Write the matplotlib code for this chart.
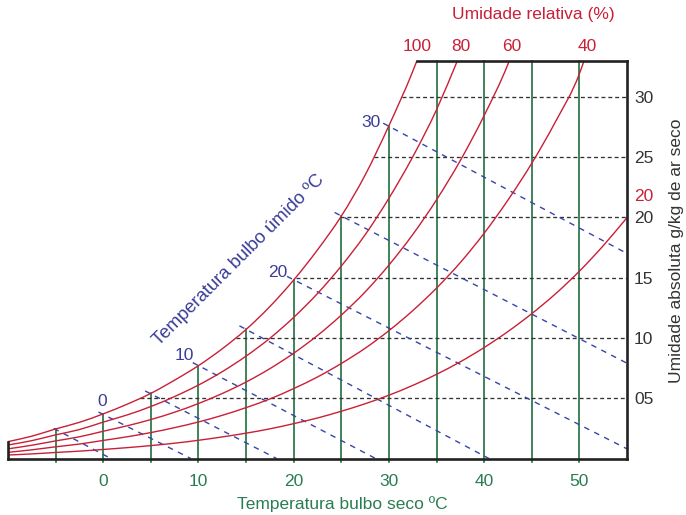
import matplotlib
matplotlib.use("Agg")
import matplotlib.pyplot as plt
from matplotlib.path import Path
from matplotlib.patches import PathPatch
import numpy as np

plt.rcParams['font.family'] = ['Liberation Sans', 'DejaVu Sans']

# ---------------- data ----------------
T_grid = [-10, -7.5, -5, -2.5, 0, 2.5, 5, 7.5, 10, 12.5, 15, 17.5, 20, 22.5, 25,
          27.5, 30, 32.5, 35, 37.5, 40, 42.5, 45, 47.5, 50, 52.5, 55]

# relative humidity curves: absolute humidity (g/kg) vs dry bulb temperature
rh100_t = T_grid[:18] + [32.95]
rh100_w = [1.4, 1.85, 2.45, 3.0, 3.7, 4.5, 5.4, 6.5, 7.7, 9.1, 10.7, 12.6, 14.8,
           17.3, 20.1, 23.5, 27.6, 32.1, 33.0]
rh80_t = T_grid[:19] + [37.2]
rh80_w = [1.12, 1.48, 1.96, 2.4, 3.02, 3.61, 4.31, 5.14, 6.09, 7.20, 8.49, 9.97,
          11.70, 13.68, 15.96, 18.55, 21.58, 25.01, 28.92, 33.0]
rh60_t = T_grid[:22] + [42.65]
rh60_w = [0.8, 1.1, 1.46, 1.8, 2.26, 2.71, 3.23, 3.84, 4.56, 5.39, 6.34, 7.45,
          8.73, 10.20, 11.89, 13.81, 16.04, 18.57, 21.45, 24.71, 28.44, 32.70, 33.0]
rh40_t = T_grid[:25] + [50.5]
rh40_w = [0.51, 0.72, 0.97, 1.2, 1.50, 1.80, 2.15, 2.56, 3.03, 3.58, 4.22, 4.94,
          5.80, 6.76, 7.88, 9.14, 10.60, 12.26, 14.13, 16.25, 18.68, 21.43, 24.48,
          27.94, 31.90, 33.0]
rh20_t = T_grid[:]
rh20_w = [0.29, 0.38, 0.5, 0.61, 0.75, 0.90, 1.07, 1.27, 1.51, 1.79, 2.10, 2.46,
          2.89, 3.36, 3.92, 4.54, 5.25, 6.06, 6.98, 8.02, 9.20, 10.53, 12.01, 13.66,
          15.53, 17.64, 19.97]
rh_labels = ['100', '80', '60', '40', '20']

# dry bulb temperature lines (vertical)
dry_temps = [-5, 0, 5, 10, 15, 20, 25, 30, 35, 40, 45, 50]
dry_tick_labels = ['0', '10', '20', '30', '40', '50']
dry_tick_values = [0, 10, 20, 30, 40, 50]

# absolute humidity grid (horizontal dashed)
hum_levels = [5, 10, 15, 20, 25, 30]
hum_labels = ['05', '10', '15', '20', '25', '30']

# wet bulb lines
wb_temps = [-5, 0, 5, 10, 15, 20, 25, 30]
wb_start_t = [-5.2, -0.5, 4.4, 9.4, 14.3, 19.3, 24.3, 29.4]
wb_start_w = [2.5, 3.85, 5.6, 7.95, 11.0, 15.1, 20.4, 27.8]
wb_end_t = [0.8, 9.2, 18.2, 28.6, 40.5, 55, 55, 55]
wb_end_w = [0, 0, 0, 0, 0, 0.8, 7.9, 17.0]
wb_label_text = ['0', '10', '20', '30']
wb_label_t = [-0.15, 8.5, 18.35, 28.1]
wb_label_w = [4.75, 8.5, 15.4, 27.9]

T_MIN, T_MAX, W_MAX = -10, 55, 33

# ---------------- styling ----------------
RED = '#c91f37'
GREEN = '#1f7040'
GREEN_TXT = '#2a7d50'
BLUE = '#3545a8'
BLUE_TXT = '#3a3d96'
DARK = '#333333'
FS = 12.5

W, H = 686, 515
fig = plt.figure(figsize=(W / 100, H / 100), dpi=100)
left, right, bottom, top = 8, 627, 458.5, 60.5
ax = fig.add_axes([left / W, 1 - bottom / H, (right - left) / W, (bottom - top) / H])
ax.set_xlim(T_MIN, T_MAX)
ax.set_ylim(0, W_MAX)
ax.patch.set_alpha(0)


def smooth_curve_path(t, w):
    """Cubic Hermite (Bezier) path passing through the given points."""
    t = np.asarray(t, float)
    w = np.asarray(w, float)
    n = len(t)
    h = np.diff(t)
    s = np.diff(w) / h
    m = np.empty(n)
    m[0] = s[0]
    m[-1] = s[-1]
    for i in range(1, n - 1):
        m[i] = (s[i] * h[i - 1] + s[i - 1] * h[i]) / (h[i - 1] + h[i])
    verts = [(t[0], w[0])]
    codes = [Path.MOVETO]
    for i in range(n - 1):
        d = h[i] / 3.0
        verts += [(t[i] + d, w[i] + m[i] * d),
                  (t[i + 1] - d, w[i + 1] - m[i + 1] * d),
                  (t[i + 1], w[i + 1])]
        codes += [Path.CURVE4] * 3
    return Path(verts, codes)


# relative humidity curves
curves = [(rh100_t, rh100_w), (rh80_t, rh80_w), (rh60_t, rh60_w),
          (rh40_t, rh40_w), (rh20_t, rh20_w)]
for t, w in curves:
    ax.add_patch(PathPatch(smooth_curve_path(t, w), fill=False, edgecolor=RED,
                           lw=1.0, zorder=4))

sat_t = np.array(rh100_t)
sat_w = np.array(rh100_w)

# dry bulb verticals
for T in dry_temps:
    wtop = min(np.interp(T, sat_t, sat_w), W_MAX)
    ax.plot([T, T], [-0.33, wtop], color=GREEN, lw=1.2, zorder=2, clip_on=False)

# horizontal humidity dashed lines
for lv in hum_levels:
    t0 = np.interp(lv, sat_w, sat_t)
    ax.plot([t0, T_MAX], [lv, lv], color=DARK, lw=0.95, ls=(0, (3.0, 2.2)), zorder=3)

# wet bulb dashed lines
for t0, w0, t1, w1 in zip(wb_start_t, wb_start_w, wb_end_t, wb_end_w):
    ax.plot([t0, t1], [w0, w1], color=BLUE, lw=1.0, ls=(0, (4.0, 4.0)), zorder=3)

for s, t, w in zip(wb_label_text, wb_label_t, wb_label_w):
    ax.text(t, w, s, color=BLUE_TXT, fontsize=FS, ha='center', va='center', zorder=6)

ax.text(0.3734, 0.4982, 'Temperatura bulbo úmido ºC', transform=ax.transAxes,
        rotation=45, rotation_mode='anchor', color=BLUE_TXT, fontsize=13.3,
        ha='center', va='center')

# RH labels at top
rh_ends = [(rh100_t[-1], 0), (rh80_t[-1], 3), (rh60_t[-1], 2.5), (rh40_t[-1], 3)]
for lab, (t_end, dx) in zip(rh_labels[:4], rh_ends):
    ax.annotate(lab, xy=(t_end, W_MAX), xytext=(dx * 0.72, 6.5),
                textcoords='offset points', ha='center', va='baseline',
                color=RED, fontsize=FS, annotation_clip=False)
ax.annotate(rh_labels[4], xy=(rh20_t[-1], rh20_w[-1]), xytext=(5, 16),
            textcoords='offset points', ha='left', va='center_baseline',
            color=RED, fontsize=FS, annotation_clip=False)

# spines
for side in ['left', 'right', 'top', 'bottom']:
    ax.spines[side].set_color('#222222')
    ax.spines[side].set_linewidth(1.9)
    ax.spines[side].set_zorder(5)
ax.spines['left'].set_bounds(0, rh100_w[0])
ax.spines['top'].set_bounds(rh100_t[-1], T_MAX)

# ticks
ax.set_xticks(dry_tick_values)
ax.set_xticklabels(dry_tick_labels)
ax.tick_params(axis='x', length=0, pad=11, labelsize=FS, labelcolor=GREEN_TXT)
ax.yaxis.tick_right()
ax.set_yticks(hum_levels)
ax.set_yticklabels(hum_labels)
ax.tick_params(axis='y', length=0, pad=5, labelsize=FS, labelcolor=DARK)

# axis titles
fig.text(533 / W, 1 - 19 / H, 'Umidade relativa (%)', color=RED, fontsize=FS,
         ha='center', va='baseline')
fig.text(342 / W, 1 - 509 / H, 'Temperatura bulbo seco ºC', color=GREEN_TXT,
         fontsize=FS, ha='center', va='baseline')
fig.text(677 / W, 1 - 250.5 / H, 'Umidade absoluta g/kg de ar seco', color=DARK,
         fontsize=FS, ha='center', va='center', rotation=90)

fig.savefig('out.png', dpi=100)
